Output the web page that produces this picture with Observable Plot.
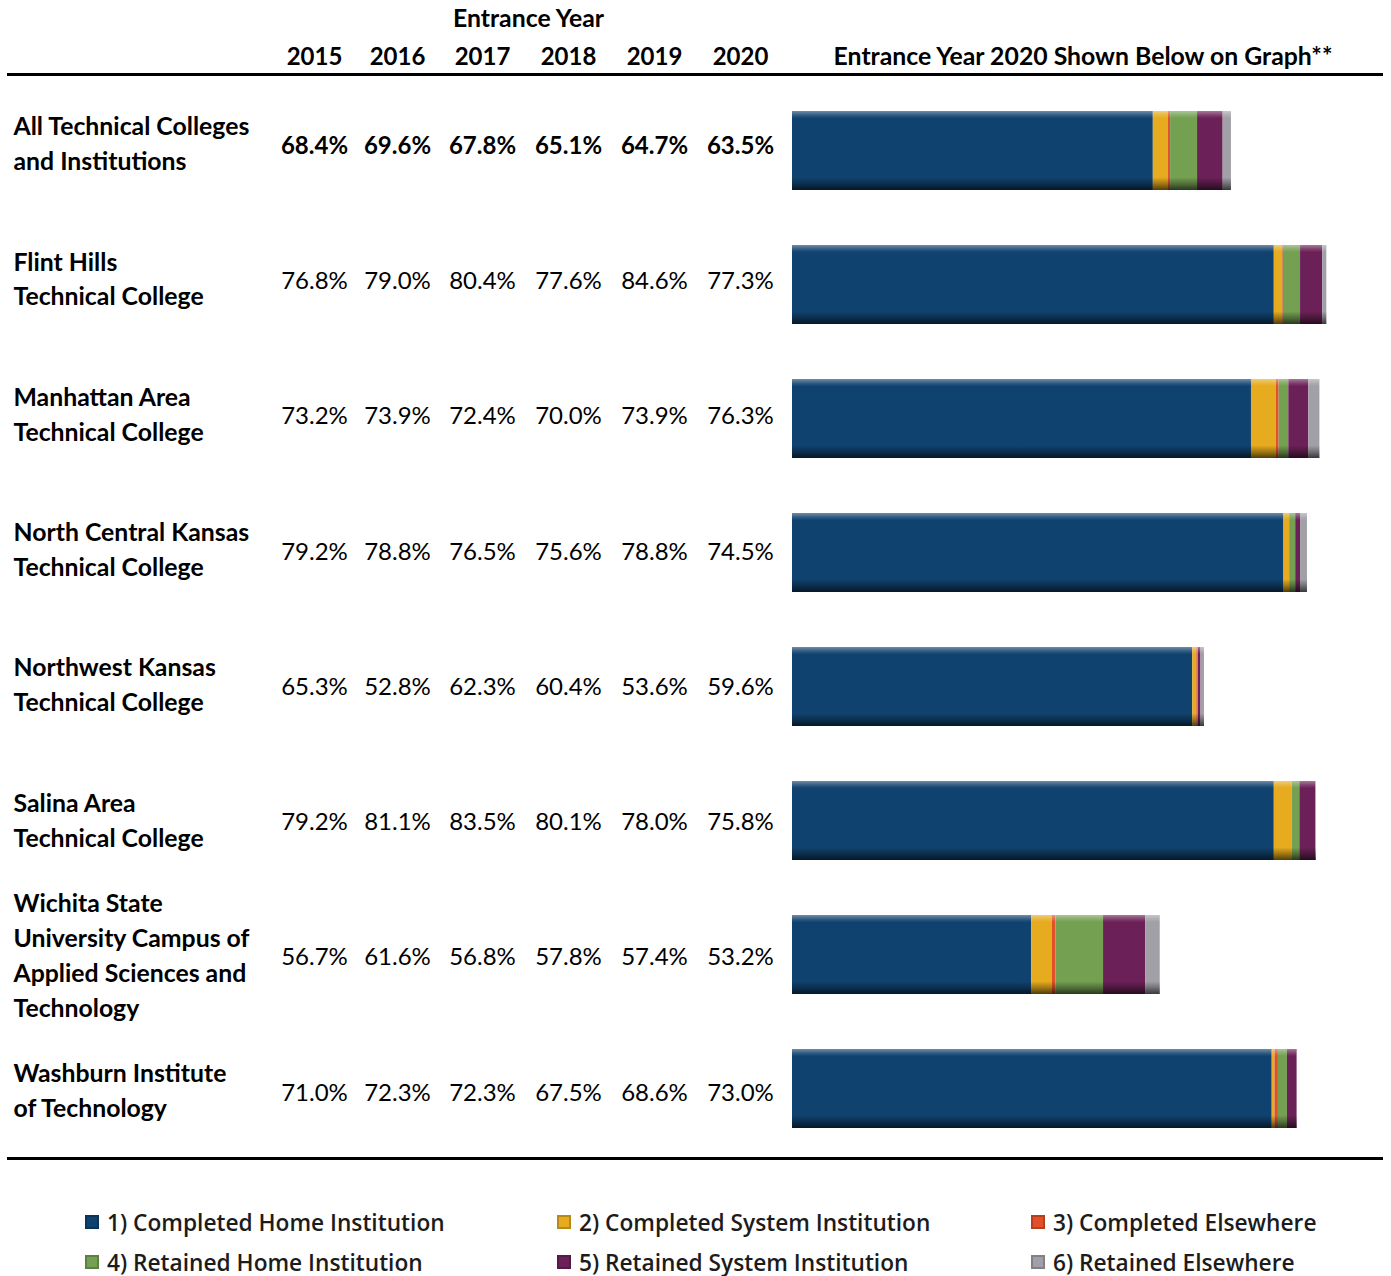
<!DOCTYPE html>
<html>
<head>
<meta charset="utf-8">
<script src="https://cdn.jsdelivr.net/npm/d3@7"></script>
<script src="https://cdn.jsdelivr.net/npm/@observablehq/plot@0.6"></script>
<style>
  html, body { margin: 0; padding: 0; background: #fff; }
  #wrap { position: relative; width: 1391px; height: 1276px; font-family: Lato, "Open Sans", sans-serif; color: #000; }
  .rule { position: absolute; background: #000; }
  .leg { position: absolute; display: flex; align-items: center; font-family: "Open Sans", sans-serif; font-weight: 600; font-size: 22.7px; color: #1c1c1c; white-space: nowrap; }
  .sw { width: 14px; height: 14px; margin-right: 8px; box-shadow: inset 0 0 0 2px rgba(0,0,0,0.2); }
</style>
</head>
<body>
<div id="wrap"></div>
<script>
// ---------------- data ----------------
const institutions = [
  "All Technical Colleges\nand Institutions",
  "Flint Hills\nTechnical College",
  "Manhattan Area\nTechnical College",
  "North Central Kansas\nTechnical College",
  "Northwest Kansas\nTechnical College",
  "Salina Area\nTechnical College",
  "Wichita State\nUniversity Campus of\nApplied Sciences and\nTechnology",
  "Washburn Institute\nof Technology"
];
const years = ["2015", "2016", "2017", "2018", "2019", "2020"];
const rate2015 = [68.4, 76.8, 73.2, 79.2, 65.3, 79.2, 56.7, 71.0];
const rate2016 = [69.6, 79.0, 73.9, 78.8, 52.8, 81.1, 61.6, 72.3];
const rate2017 = [67.8, 80.4, 72.4, 76.5, 62.3, 83.5, 56.8, 72.3];
const rate2018 = [65.1, 77.6, 70.0, 75.6, 60.4, 80.1, 57.8, 67.5];
const rate2019 = [64.7, 84.6, 73.9, 78.8, 53.6, 78.0, 57.4, 68.6];
const rate2020 = [63.5, 77.3, 76.3, 74.5, 59.6, 75.8, 53.2, 73.0];

const categories = [
  "1) Completed Home Institution",
  "2) Completed System Institution",
  "3) Completed Elsewhere",
  "4) Retained Home Institution",
  "5) Retained System Institution",
  "6) Retained Elsewhere"
];
// 2020 entrance-year breakdown (percent of cohort)
const completedHome      = [52.2, 69.7, 66.4, 71.1, 57.9, 69.7, 34.6, 69.4];
const completedSystem    = [ 2.2,  1.2,  3.6,  0.8,  0.6,  2.6,  3.0,  0.4];
const completedElsewhere = [ 0.3,  0.1,  0.4,  0.1,  0.1,  0.0,  0.5,  0.5];
const retainedHome       = [ 3.9,  2.5,  1.4,  0.8,  0.1,  1.1,  6.9,  1.3];
const retainedSystem     = [ 3.7,  3.2,  2.9,  0.7,  0.4,  2.3,  6.1,  1.4];
const retainedElsewhere  = [ 1.2,  0.6,  1.6,  1.0,  0.5,  0.1,  2.1,  0.0];

const colors = ["#10426f", "#e6ab1e", "#e2502a", "#74a052", "#6b2157", "#a1a0a7"];

// ---------------- derived tables ----------------
const rateCols = [rate2015, rate2016, rate2017, rate2018, rate2019, rate2020];
const segCols = [completedHome, completedSystem, completedElsewhere, retainedHome, retainedSystem, retainedElsewhere];
const rows = institutions.map((name, i) => ({
  name, i,
  rates: rateCols.map(c => c[i]),
  total: d3.sum(segCols, c => c[i])
}));
const segments = [];
institutions.forEach((name, i) => {
  categories.forEach((cat, j) => segments.push({name, category: cat, value: segCols[j][i]}));
});

// ---------------- layout ----------------
const W = 1391, H = 1170, ML = 792, MR = 8, MT = 81, MB = 13;
const colX = [314, 397, 482, 568, 654, 740];
const labelX = 13;
const FS_LABEL = 24.8, FS_NUM = 24;
// table rows are spaced slightly wider than the bar bands
const tableShift = i => -5 + 1.3 * i;

const marks = [];
// stacked bars
marks.push(Plot.barX(segments, Plot.stackX({y: "name", x: "value", fill: "category"})));
// 3D shading overlay
marks.push(Plot.barX(rows, {y: "name", x: "total", fill: "url(#barShade)"}));

rows.forEach(r => {
  const dy = tableShift(r.i);
  marks.push(Plot.text([r], {
    y: "name", text: "name", frameAnchor: "left", dx: labelX - ML, dy: dy - 4.5,
    textAnchor: "start", lineAnchor: "middle",
    fontWeight: "bold", fontSize: FS_LABEL, lineHeight: 1.41, fill: "#000"
  }));
  years.forEach((yr, k) => {
    marks.push(Plot.text([r], {
      y: "name", text: d => d.rates[k].toFixed(1) + "%", frameAnchor: "left",
      dx: colX[k] - ML, dy, textAnchor: "middle", lineAnchor: "middle", fontSize: FS_NUM,
      fontWeight: r.i === 0 ? "bold" : "normal", fill: "#000"
    }));
  });
});
years.forEach((yr, k) => {
  marks.push(Plot.text([yr], {
    text: d => d, frameAnchor: "top-left", dx: colX[k] - ML, dy: 57 - MT,
    textAnchor: "middle", lineAnchor: "middle", fontWeight: "bold", fontSize: FS_NUM, fill: "#000"
  }));
});
marks.push(Plot.text(["Entrance Year"], {
  text: d => d, frameAnchor: "top-left", dx: 528 - ML, dy: 19 - MT,
  textAnchor: "middle", lineAnchor: "middle", fontWeight: "bold", fontSize: FS_LABEL, fill: "#000"
}));
marks.push(Plot.text(["Entrance Year 2020 Shown Below on Graph**"], {
  text: d => d, frameAnchor: "top", dx: -5, dy: 57 - MT,
  textAnchor: "middle", lineAnchor: "middle", fontWeight: "bold", fontSize: FS_LABEL, fill: "#000"
}));

const chart = Plot.plot({
  width: W, height: H,
  marginLeft: ML, marginRight: MR, marginTop: MT, marginBottom: MB,
  style: {fontFamily: "Lato, sans-serif", background: "#fff", overflow: "visible"},
  x: {domain: [0, 85.5], axis: null},
  y: {domain: institutions, axis: null, paddingInner: 0.4126, paddingOuter: 0.2063},
  color: {domain: categories, range: colors},
  marks
});

// gradient definition used by the overlay
const svg = d3.select(chart.tagName === "svg" ? chart : chart.querySelector("svg"));
const grad = svg.insert("defs", ":first-child").append("linearGradient")
  .attr("id", "barShade").attr("x1", 0).attr("y1", 0).attr("x2", 0).attr("y2", 1);
[[0, "#fff", 0.4], [0.05, "#fff", 0.15], [0.09, "#fff", 0], [0.84, "#000", 0], [0.92, "#000", 0.3], [1, "#000", 0.65]]
  .forEach(([o, c, a]) => grad.append("stop").attr("offset", o).attr("stop-color", c).attr("stop-opacity", a));

const wrap = document.getElementById("wrap");
chart.style.position = "absolute";
chart.style.left = "0px";
chart.style.top = "0px";
wrap.appendChild(chart);

// horizontal rules
[[73, 3], [1157, 3]].forEach(([top, h]) => {
  const r = document.createElement("div");
  r.className = "rule";
  Object.assign(r.style, {left: "7px", width: "1376px", top: top + "px", height: h + "px"});
  wrap.appendChild(r);
});

// legend
const legLeft = [85, 557, 1031], legTop = [1222, 1262];
categories.forEach((cat, j) => {
  const item = document.createElement("div");
  item.className = "leg";
  item.style.left = legLeft[j % 3] + "px";
  item.style.top = (legTop[Math.floor(j / 3)] - 15) + "px";
  item.style.height = "30px";
  const sw = document.createElement("span");
  sw.className = "sw";
  sw.style.background = colors[j];
  item.appendChild(sw);
  item.appendChild(document.createTextNode(cat));
  wrap.appendChild(item);
});
</script>
</body>
</html>
